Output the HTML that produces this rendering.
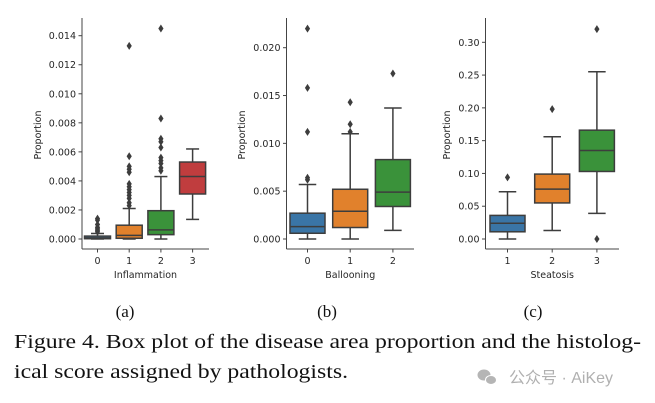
<!DOCTYPE html>
<html><head><meta charset="utf-8"><style>
html,body{margin:0;padding:0;background:#fff;width:655px;height:403px;overflow:hidden}
svg{display:block}
.tk{font-family:"DejaVu Sans","Liberation Sans",sans-serif;font-size:9.5px;fill:#262626}
.cap{font-family:"Liberation Serif",serif;fill:#111}
</style></head><body>
<svg id="fig" width="655" height="403" viewBox="0 0 655 403">
<text class="cap" x="125" y="317" font-size="17" text-anchor="middle">(a)</text>
<text class="cap" x="327" y="317" font-size="17" text-anchor="middle">(b)</text>
<text class="cap" x="533" y="317" font-size="17" text-anchor="middle">(c)</text>
<text class="cap" x="14" y="348" font-size="20.5" textLength="627" lengthAdjust="spacingAndGlyphs">Figure 4. Box plot of the disease area proportion and the histolog-</text>
<text class="cap" x="14" y="378" font-size="20.5" textLength="334" lengthAdjust="spacingAndGlyphs">ical score assigned by pathologists.</text>
<g>
<ellipse cx="484" cy="375" rx="6.5" ry="5.5" fill="#b5b5b5"/>
<ellipse cx="491" cy="380" rx="5.5" ry="4.5" fill="#b5b5b5" stroke="#fff" stroke-width="1"/>
<text x="509" y="383" font-size="16" fill="#b0b0b0" font-family="'Liberation Sans','Noto Sans CJK SC',sans-serif">公众号 · AiKey</text>
</g>
</svg>
<script>
// Panel (a) Inflammation
const catsA = ['0','1','2','3'];
const statsA = [
  [0, 0.00002, 0.00008, 0.0002, 0.00038],
  [0, 0.00005, 0.00025, 0.00095, 0.0021],
  [0, 0.0003, 0.00063, 0.00195, 0.0043],
  [0.00135, 0.0031, 0.0043, 0.0053, 0.0062]
];
const outA = [
  [0.0005,0.0006,0.0007,0.0008,0.001,0.0013,0.0014],
  [0.0023,0.0025,0.0028,0.003,0.0032,0.0034,0.0036,0.0038,0.0046,0.0048,0.005,0.0057,0.0133],
  [0.0047,0.0049,0.0052,0.0054,0.0056,0.0063,0.0067,0.0069,0.0083,0.0145],
  []
];
const ticksA = [0,0.002,0.004,0.006,0.008,0.010,0.012,0.014];
// Panel (b) Ballooning
const catsB = ['0','1','2'];
const statsB = [
  [0, 0.0006, 0.0013, 0.0027, 0.0057],
  [0, 0.0012, 0.0029, 0.0052, 0.011],
  [0.0009, 0.0034, 0.0049, 0.0083, 0.0137]
];
const outB = [[0.0062,0.0064,0.0112,0.0158,0.022],[0.0112,0.012,0.0143],[0.0173]];
const ticksB = [0,0.005,0.010,0.015,0.020];
// Panel (c) Steatosis
const catsC = ['1','2','3'];
const statsC = [
  [0, 0.011, 0.024, 0.036, 0.072],
  [0.013, 0.055, 0.076, 0.099, 0.156],
  [0.039, 0.103, 0.135, 0.166, 0.255]
];
const outC = [[0.094],[0.198],[0.32,0]];
const ticksC = [0,0.05,0.10,0.15,0.20,0.25,0.30];

const colors = ['#3a75a6','#e1812c','#3a923a','#c03d3e'];
const NS='http://www.w3.org/2000/svg';
const svg=document.getElementById('fig');
function mk(tag,attrs,parent){const e=document.createElementNS(NS,tag);for(const k in attrs)e.setAttribute(k,attrs[k]);(parent||svg).appendChild(e);return e;}

function panel(p){
  const g=mk('g',{});
  
  
  const y=v=>p.y0-(v-0)*(p.y0-p.yTop)/p.vTop;
  const x=i=>p.x0+p.first+i*p.step;
  const ec='#3d3d3d';
  // axes
  const ya=mk('line',{x1:p.ax,y1:18,x2:p.ax,y2:249,stroke:'#444','stroke-width':1},g);
  
  
  const xa=mk('line',{x1:p.ax,y1:249,x2:p.axR,y2:249,stroke:'#444','stroke-width':1},g);
  
  
  p.ticks.forEach(t=>{
    mk('line',{x1:p.ax-3.5,x2:p.ax,y1:y(t),y2:y(t),stroke:'#444'},g);
    const tx=mk('text',{x:p.ax-6,y:y(t)+3.5,'text-anchor':'end',class:'tk'},g);
    tx.textContent=t.toFixed(p.dec);
    
    
  });
  p.cats.forEach((c,i)=>{
    const cx=x(i);
    mk('line',{x1:cx,x2:cx,y1:249,y2:252.5,stroke:'#444'},g);
    const tx=mk('text',{x:cx,y:264,'text-anchor':'middle',class:'tk'},g);
    tx.textContent=c;
    
    
    const s=p.stats[i], w=p.bw;
    const bg=mk('g',{},g);
    
    
    mk('line',{x1:cx,x2:cx,y1:y(s[0]),y2:y(s[1]),stroke:ec,'stroke-width':1.5},bg);
    mk('line',{x1:cx,x2:cx,y1:y(s[3]),y2:y(s[4]),stroke:ec,'stroke-width':1.5},bg);
    mk('line',{x1:cx-w/4,x2:cx+w/4,y1:y(s[0]),y2:y(s[0]),stroke:ec,'stroke-width':1.5},bg);
    mk('line',{x1:cx-w/4,x2:cx+w/4,y1:y(s[4]),y2:y(s[4]),stroke:ec,'stroke-width':1.5},bg);
    mk('rect',{x:cx-w/2,y:y(s[3]),width:w,height:Math.max(1.5,y(s[1])-y(s[3])),fill:colors[i],stroke:ec,'stroke-width':1.5},bg);
    mk('line',{x1:cx-w/2,x2:cx+w/2,y1:y(s[2]),y2:y(s[2]),stroke:ec,'stroke-width':1.5},bg);
    p.out[i].forEach(v=>{
      const yy=y(v);
      const d=mk('path',{d:`M${cx} ${yy-4}L${cx+2.6} ${yy}L${cx} ${yy+4}L${cx-2.6} ${yy}Z`,fill:'#3d3d3d'},bg);
      
      
    });
  });
  const xl=mk('text',{x:(p.ax+p.axR)/2,y:278,'text-anchor':'middle',class:'tk'},g);
  xl.textContent=p.xlabel;
  
  
  const yl=mk('text',{x:0,y:0,'text-anchor':'middle',class:'tk',transform:`translate(${p.ylx},135) rotate(-90)`},g);
  yl.textContent='Proportion';
  
  
}
panel({name:'panel-inflammation',cats:catsA,stats:statsA,out:outA,ticks:ticksA,dec:3,ax:82,axR:209,x0:82,first:15.5,step:31.7,bw:26,y0:239,yTop:35.7,vTop:0.014,xlabel:'Inflammation',ylx:41});
panel({name:'panel-ballooning',cats:catsB,stats:statsB,out:outB,ticks:ticksB,dec:3,ax:286.5,axR:414,x0:286.5,first:21,step:42.7,bw:35,y0:239,yTop:47.7,vTop:0.020,xlabel:'Ballooning',ylx:245});
panel({name:'panel-steatosis',cats:catsC,stats:statsC,out:outC,ticks:ticksC,dec:2,ax:485.5,axR:619,x0:485.5,first:22,step:44.7,bw:35,y0:239,yTop:42.3,vTop:0.30,xlabel:'Steatosis',ylx:450});
</script>
</body></html>
